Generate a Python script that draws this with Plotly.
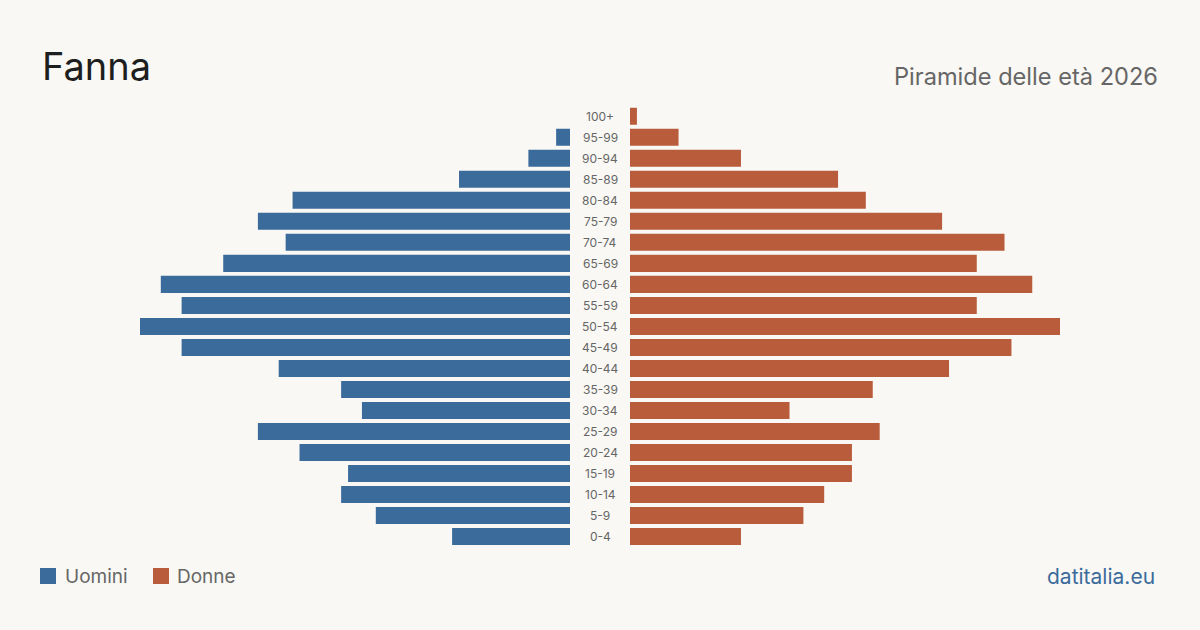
import plotly.graph_objects as go

ages = ["0-4", "5-9", "10-14", "15-19", "20-24", "25-29", "30-34", "35-39", "40-44",
        "45-49", "50-54", "55-59", "60-64", "65-69", "70-74", "75-79", "80-84",
        "85-89", "90-94", "95-99", "100+"]
uomini = [17, 28, 33, 32, 39, 45, 30, 33, 42, 56, 62, 56, 59, 50, 41, 45, 40, 16, 6, 2, 0]
donne = [16, 25, 28, 32, 32, 36, 23, 35, 46, 55, 62, 50, 58, 50, 54, 45, 34, 30, 16, 7, 1]

BLUE = "#3b6b9b"
ORANGE = "#b95c3c"
BG = "#f9f8f4"
W, H = 1200, 630
XMAX = 62

def px(x):
    return x / W

def py(y):
    return 1 - y / H

fig = go.Figure()
fig.add_trace(go.Bar(y=ages, x=uomini, orientation="h", marker_color=BLUE,
                     marker_line_width=0,
                     xaxis="x", yaxis="y", name="Uomini", showlegend=False,
                     hoverinfo="x+y"))
fig.add_trace(go.Bar(y=ages, x=donne, orientation="h", marker_color=ORANGE,
                     marker_line_width=0,
                     xaxis="x2", yaxis="y", name="Donne", showlegend=False,
                     hoverinfo="x+y"))

ydom = [1 - 547 / H, 1 - 105.8 / H]
fig.update_layout(
    width=W, height=H,
    paper_bgcolor=BG, plot_bgcolor=BG,
    margin=dict(l=0, r=0, t=0, b=0),
    bargap=0.19,
    font=dict(family="Inter", color="#666"),
    xaxis=dict(domain=[px(140), px(570)], range=[XMAX, 0], visible=False, fixedrange=True),
    xaxis2=dict(domain=[px(630), px(1060)], range=[0, XMAX], visible=False, fixedrange=True),
    yaxis=dict(domain=ydom, categoryorder="array", categoryarray=ages, visible=False,
               range=[-0.5, len(ages) - 0.5]),
)

annotations = []
for a in ages:
    annotations.append(dict(x=0.5, xref="paper", y=a, yref="y", text=a, showarrow=False,
                            font=dict(family="Inter", size=12, color="#666"),
                            xanchor="center", yanchor="middle"))

annotations.append(dict(x=px(40), y=py(66.5), xref="paper", yref="paper", text="Fanna",
                        showarrow=False, xanchor="left", yanchor="middle",
                        font=dict(family="Inter", size=38, color="#1e1e1e")))
annotations.append(dict(x=px(1160), y=py(76), xref="paper", yref="paper",
                        text="Piramide delle età 2026", showarrow=False,
                        xanchor="right", yanchor="middle",
                        font=dict(family="Inter", size=23.6, color="#666")))
annotations.append(dict(x=px(62.5), y=py(576), xref="paper", yref="paper", text="Uomini",
                        showarrow=False, xanchor="left", yanchor="middle",
                        font=dict(family="Inter", size=19, color="#666")))
annotations.append(dict(x=px(175), y=py(576), xref="paper", yref="paper", text="Donne",
                        showarrow=False, xanchor="left", yanchor="middle",
                        font=dict(family="Inter", size=19, color="#666")))
annotations.append(dict(x=px(1157), y=py(576), xref="paper", yref="paper", text="datitalia.eu",
                        showarrow=False, xanchor="right", yanchor="middle",
                        font=dict(family="Inter", size=21, color="#3b6b9b")))

shapes = [
    dict(type="rect", xref="paper", yref="paper", x0=px(40), x1=px(56), y0=py(584), y1=py(568),
         fillcolor=BLUE, line=dict(width=0)),
    dict(type="rect", xref="paper", yref="paper", x0=px(153), x1=px(169), y0=py(584), y1=py(568),
         fillcolor=ORANGE, line=dict(width=0)),
]
fig.update_layout(annotations=annotations, shapes=shapes)

fig.write_html("out.html")
